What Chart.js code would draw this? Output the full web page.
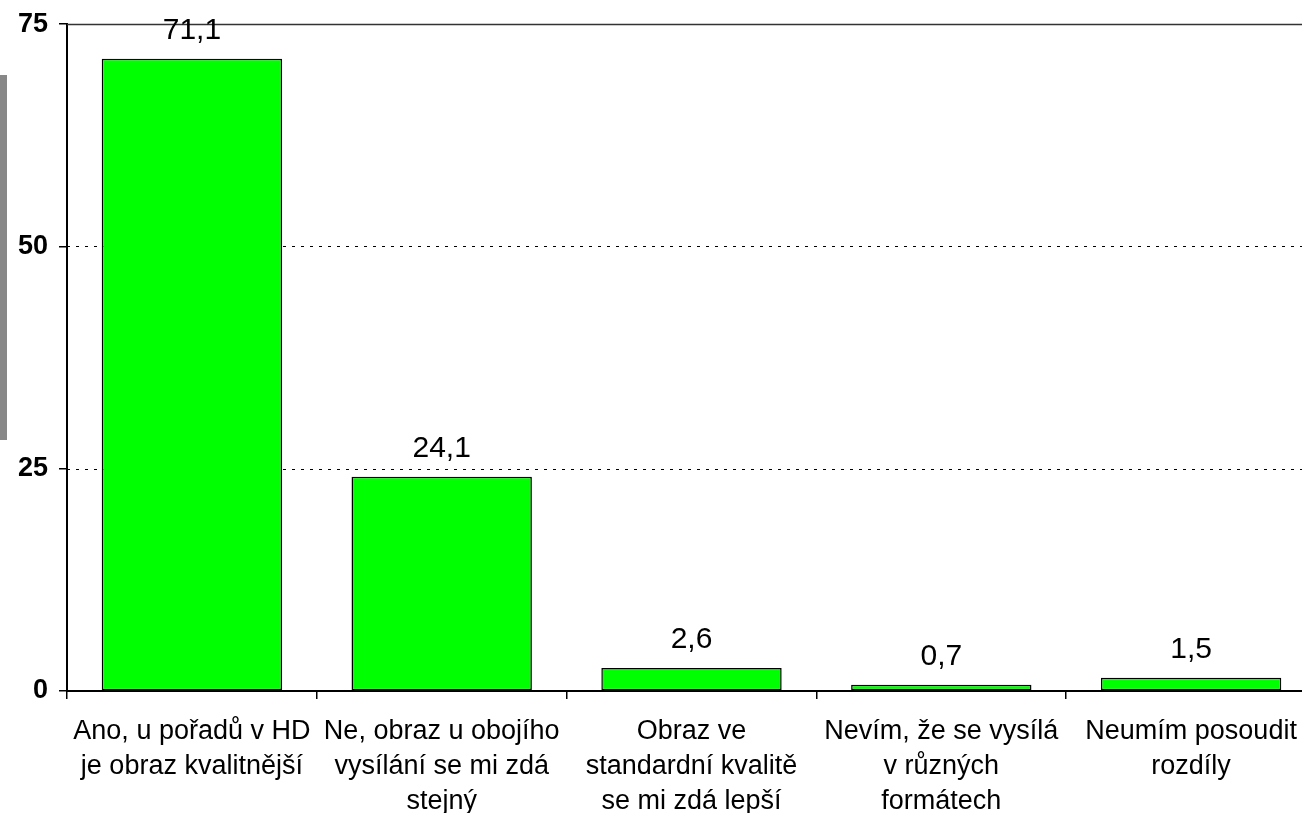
<!DOCTYPE html>
<html>
<head>
<meta charset="utf-8">
<script src="https://cdn.jsdelivr.net/npm/chart.js@4"></script>
<style>
  html, body { margin: 0; background: #fff; overflow: hidden; }
  #wrap { position: relative; width: 1316px; height: 816px; margin-top: -3px; }
  #sidebar { position: absolute; left: 0; top: 78px; width: 7px; height: 365px; background: #888; }
</style>
</head>
<body>
<div id="wrap">
  <canvas id="chart"></canvas>
  <div id="sidebar"></div>
</div>
<script>
// data
const categories = [
    ['Ano, u pořadů v HD', 'je obraz kvalitnější'],
    ['Ne, obraz u obojího', 'vysílání se mi zdá', 'stejný'],
    ['Obraz ve', 'standardní kvalitě', 'se mi zdá lepší'],
    ['Nevím, že se vysílá', 'v různých', 'formátech'],
    ['Neumím posoudit', 'rozdíly']
];
const values = [71.1, 24.1, 2.6, 0.7, 1.5];
const yTicks = [0, 25, 50, 75];

const FONT = 'Arial, "Liberation Sans", sans-serif';

// dotted grid lines + solid top line
const gridPlugin = {
    id: 'dotGrid',
    beforeDatasetsDraw(chart) {
        const ctx = chart.ctx;
        const y = chart.scales.y;
        const area = chart.chartArea;
        ctx.save();
        yTicks.forEach(t => {
            if (t === 0) return;
            const py = Math.round(y.getPixelForValue(t)) + 0.5;
            ctx.beginPath();
            ctx.strokeStyle = '#000';
            if (t === 75) {
                ctx.setLineDash([]);
                ctx.lineWidth = 1.5;
                ctx.strokeStyle = '#333';
            } else {
                ctx.setLineDash([3, 6]);
                ctx.lineWidth = 1;
            }
            ctx.moveTo(area.left, py);
            ctx.lineTo(area.right, py);
            ctx.stroke();
        });
        ctx.restore();
    }
};

// value labels above bars
const valueLabels = {
    id: 'valueLabels',
    afterDatasetsDraw(chart) {
        const ctx = chart.ctx;
        const meta = chart.getDatasetMeta(0);
        ctx.save();
        ctx.font = '30px ' + FONT;
        ctx.fillStyle = '#000';
        ctx.textAlign = 'center';
        ctx.textBaseline = 'alphabetic';
        meta.data.forEach((bar, i) => {
            ctx.fillText(values[i].toFixed(1).replace('.', ','), bar.x, bar.y - 20);
        });
        ctx.restore();
    }
};

new Chart(document.getElementById('chart'), {
    type: 'bar',
    data: {
        labels: categories,
        datasets: [{
            data: values,
            backgroundColor: '#00ff00',
            borderColor: '#000',
            borderWidth: 1.5,
            borderSkipped: false,
            categoryPercentage: 0.722,
            barPercentage: 1.0
        }]
    },
    options: {
        responsive: true,
        maintainAspectRatio: false,
        animation: false,
        layout: { padding: { top: 24, right: 0, left: 0, bottom: 0 } },
        plugins: {
            legend: { display: false },
            tooltip: { enabled: false }
        },
        scales: {
            x: {
                offset: true,
                grid: {
                    offset: true,
                    drawOnChartArea: false,
                    drawTicks: true,
                    tickLength: 8,
                    color: '#000',
                    lineWidth: 1.5
                },
                border: { display: true, color: '#000', width: 2 },
                ticks: {
                    color: '#000',
                    font: { family: FONT, size: 27, lineHeight: 1.3 },
                    padding: 15,
                    maxRotation: 0,
                    autoSkip: false
                },
                afterFit(scale) { scale.height = 122; }
            },
            y: {
                min: 0,
                max: 75,
                afterBuildTicks(scale) { scale.ticks = yTicks.map(v => ({ value: v })); },
                grid: {
                    drawOnChartArea: false,
                    drawTicks: true,
                    tickLength: 8,
                    color: '#000',
                    lineWidth: 1.5
                },
                border: { display: true, color: '#000', width: 2 },
                ticks: {
                    color: '#000',
                    font: { family: FONT, size: 27, weight: 'bold' },
                    padding: 11
                },
                afterFit(scale) { scale.width = 67; }
            }
        }
    },
    plugins: [gridPlugin, valueLabels]
});
</script>
</body>
</html>
